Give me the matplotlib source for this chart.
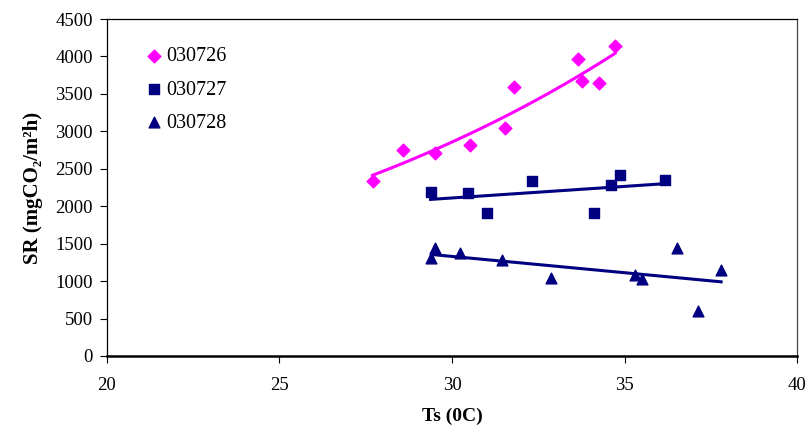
import numpy as np
import matplotlib
matplotlib.use("Agg")
import matplotlib.pyplot as plt

plt.rcParams['font.family'] = ['Liberation Serif', 'DejaVu Serif']

# 030726
ts_26 = [27.70, 28.57, 29.52, 30.53, 31.54, 31.79, 33.65, 33.75, 34.27, 34.72]
sr_26 = [2337, 2746, 2715, 2812, 3039, 3596, 3961, 3676, 3645, 4143]
# 030727
ts_27 = [29.38, 30.46, 31.00, 32.31, 34.11, 34.59, 34.86, 36.16]
sr_27 = [2194, 2181, 1909, 2333, 1909, 2287, 2421, 2354]
# 030728
ts_28 = [29.50, 29.40, 30.24, 31.46, 32.87, 35.31, 35.50, 36.51, 37.11, 37.79]
sr_28 = [1438, 1304, 1371, 1282, 1037, 1082, 1028, 1446, 605, 1148]

labels = ['030726', '030727', '030728']
pink = '#FF00FF'
navy = '#000080'

fig = plt.figure(figsize=(8.1, 4.32), dpi=100)
ax = fig.add_axes([0.1315, 0.176, 0.853, 0.780])

ax.scatter(ts_26, sr_26, marker='D', s=42, color=pink, label=labels[0], zorder=3)
ax.scatter(ts_27, sr_27, marker='s', s=48, color=navy, label=labels[1], zorder=3)
ax.scatter(ts_28, sr_28, marker='^', s=60, color=navy, label=labels[2], zorder=3)

# trendlines: exponential for 030726, linear for the others
x = np.array(ts_26)
b, a = np.polyfit(x, np.log(sr_26), 1)
xx = np.linspace(x.min(), x.max(), 50)
ax.plot(xx, np.exp(a + b * xx), color=pink, lw=2.2, zorder=2)

for ts, sr in [(ts_27, sr_27), (ts_28, sr_28)]:
    x = np.array(ts)
    m, c = np.polyfit(x, sr, 1)
    xx = np.array([x.min(), x.max()])
    ax.plot(xx, m * xx + c, color=navy, lw=2.2, zorder=2)

ax.set_xlim(20, 40)
ax.set_ylim(0, 4500)
ax.set_xticks(range(20, 41, 5))
ax.set_yticks(range(0, 4501, 500))
ax.tick_params(direction='out', length=5, width=0.8, labelsize=13.5, pad=5)
ax.tick_params(axis='x', pad=10)

for side in ['top', 'right', 'left']:
    ax.spines[side].set_linewidth(0.9)
ax.spines['right'].set_color('#444444')
ax.spines['bottom'].set_linewidth(1.8)

ax.set_xlabel('Ts (0C)', fontsize=14, fontweight='bold', labelpad=10)
ax.set_ylabel('SR (mgCO\u2082/m\u00b2h)', fontsize=15, fontweight='bold', labelpad=9)

leg = ax.legend(loc='upper left', bbox_to_anchor=(0.04, 0.94), frameon=False,
                fontsize=14.5, handletextpad=0.0, labelspacing=0.7, handlelength=1.2,
                borderaxespad=0)

fig.savefig('out.png', dpi=100)
